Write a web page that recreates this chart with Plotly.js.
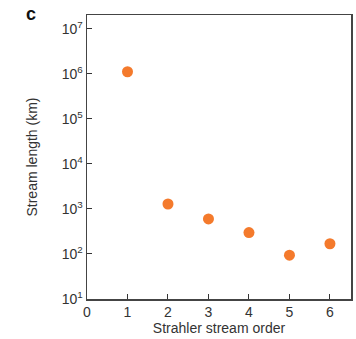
<!DOCTYPE html>
<html><head><meta charset="utf-8">
<script src="https://cdn.plot.ly/plotly-3.0.1.min.js"></script>
<style>html,body{margin:0;padding:0;background:#fff}#c{width:356px;height:339px}</style>
</head><body><div id="c"></div>
<script>
const orders = [1, 2, 3, 4, 5, 6];
const lengthKm = [1120000, 1290, 600, 300, 94, 169];
const yTickVals = [10, 100, 1000, 10000, 100000, 1000000, 10000000];
const yTickText = ['10<sup>1</sup>', '10<sup>2</sup>', '10<sup>3</sup>', '10<sup>4</sup>', '10<sup>5</sup>', '10<sup>6</sup>', '10<sup>7</sup>'];
const xTickVals = [0, 1, 2, 3, 4, 5, 6];

const font = 'Liberation Sans, Arial, sans-serif';
Plotly.newPlot('c', [{
  x: orders, y: lengthKm, type: 'scatter', mode: 'markers',
  marker: {color: '#f47a2c', size: 11}
}], {
  width: 356, height: 339,
  margin: {l: 87, r: 5, t: 15, b: 40},
  paper_bgcolor: '#fff', plot_bgcolor: '#fff',
  font: {family: font, size: 12, color: '#333'},
  showlegend: false,
  xaxis: {
    range: [0, 6.52], tickvals: xTickVals, ticks: 'inside', ticklen: 5, tickcolor: '#333',
    showline: true, linecolor: '#444', linewidth: 1.5, mirror: true, showgrid: false, zeroline: false,
    tickfont: {size: 14, color: '#333'},
    title: {text: 'Strahler stream order', font: {size: 14, color: '#333'}, standoff: 3}
  },
  yaxis: {
    type: 'log', range: [1, 7.31], tickvals: yTickVals, ticktext: yTickText, ticks: 'inside', ticklen: 5, tickcolor: '#333',
    showline: true, linecolor: '#444', linewidth: 1.5, mirror: true, showgrid: false, zeroline: false,
    tickfont: {size: 14, color: '#333'},
    title: {text: 'Stream length (km)', font: {size: 14, color: '#333'}, standoff: 21}
  },
  annotations: [{text: '<b>c</b>', xref: 'paper', yref: 'paper', x: -0.24, y: 1.045, xanchor: 'left', yanchor: 'top', showarrow: false, font: {size: 18, color: '#111', family: font}}]
}, {staticPlot: true});
</script></body></html>
